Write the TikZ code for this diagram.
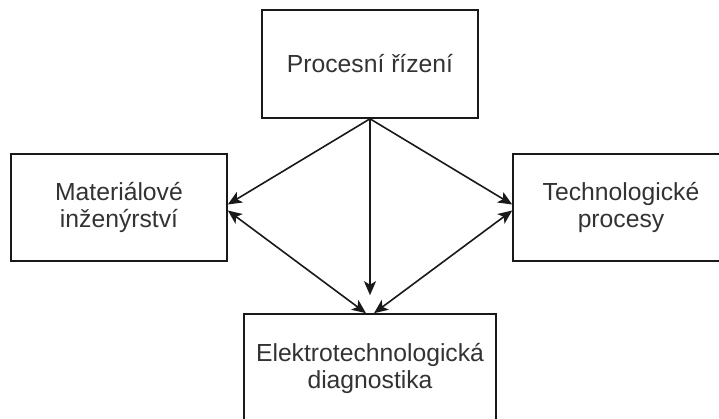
\documentclass[tikz,border=0pt]{standalone}
\usepackage{fontspec}
\setmainfont{Liberation Sans}
\usetikzlibrary{arrows.meta}
\begin{document}
\begin{tikzpicture}[x=1pt,y=-1pt,
  box/.style={draw=black!90, line width=1.6pt, fill=white, align=center,
    text=black!80, font=\fontsize{24.7pt}{27pt}\selectfont,
    minimum height=107pt, inner sep=0pt},
  tip/.style={Stealth[length=14pt,width=12pt,inset=3.5pt]},
  link/.style={draw=black!90, line width=1.6pt, -{Stealth[length=14pt,width=12pt,inset=3.5pt]}},
  dlink/.style={draw=black!90, line width=1.6pt,
    {Stealth[length=14pt,width=12pt,inset=3.5pt]}-{Stealth[length=14pt,width=12pt,inset=3.5pt]}}]
\clip (0,0) rectangle (719,418);
\fill[white] (0,0) rectangle (719,418);

% boxes
\node[box, minimum width=216pt, minimum height=108pt] (proc) at (370,64) {Procesní řízení};
\node[box, minimum width=216pt] (mat) at (119,207.5) {Materiálové\\inženýrství};
\node[box, minimum width=216pt] (tech) at (621,207.5) {Technologické\\procesy};
\node[box, minimum width=252pt, minimum height=108pt] (diag) at (370,368) {Elektrotechnologická\\diagnostika};

% connectors
\draw[link] (proc.south) -- ([yshift=3pt]mat.east);
\draw[link] (proc.south) -- ([yshift=3pt]tech.west);
\draw[link] (proc.south) -- ([yshift=18pt]diag.north);
\draw[dlink] ([yshift=-3pt]mat.east) -- ([xshift=-4pt]diag.north);
\draw[dlink] ([yshift=-3pt]tech.west) -- ([xshift=4pt]diag.north);
\end{tikzpicture}
\end{document}
